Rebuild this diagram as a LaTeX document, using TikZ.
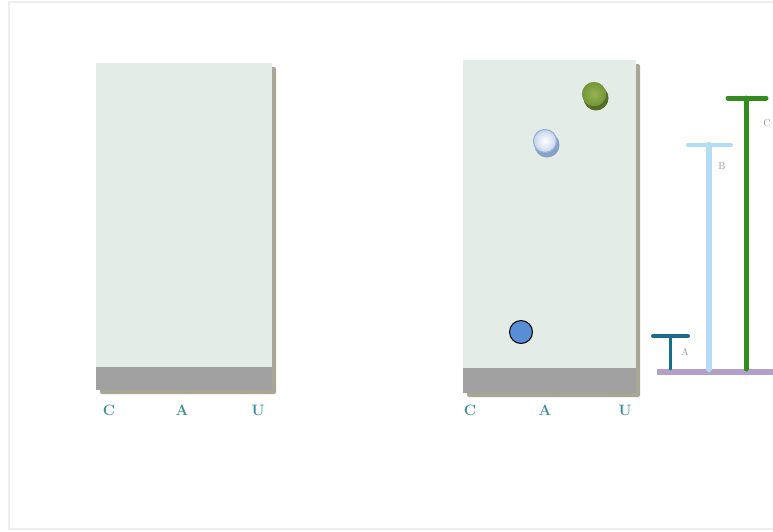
\documentclass[tikz,border=0pt]{standalone}
\usepackage{tikz}
\usetikzlibrary{positioning,calc}
\definecolor{myplate}{RGB}{228,236,231}
\definecolor{myband}{RGB}{160,161,160}
\definecolor{myshadow}{RGB}{168,167,150}
\definecolor{myteal}{RGB}{58,143,150}
\definecolor{mybar}{RGB}{26,110,140}
\definecolor{mysky}{RGB}{181,220,245}
\definecolor{mygreen}{RGB}{52,140,30}
\definecolor{mybase}{RGB}{178,160,200}
\definecolor{mylab}{RGB}{150,150,175}
\definecolor{myspot}{RGB}{88,142,214}
\definecolor{myframe}{RGB}{238,238,238}
\definecolor{myolive}{RGB}{150,180,80}
\definecolor{myolivemid}{RGB}{115,150,55}
\definecolor{myolivedark}{RGB}{85,110,38}
\definecolor{mypale}{RGB}{200,212,235}
\definecolor{mypaleedge}{RGB}{150,180,220}
\definecolor{mypaledark}{RGB}{135,160,200}
\tikzset{
  plate/.style={fill=myplate},
  band/.style={fill=myband},
  shade/.style={fill=myshadow,rounded corners=2pt},
  lane/.style={text=myteal,font=\fontsize{15}{15}\selectfont\bfseries,inner sep=0pt},
  barlab/.style={text=mylab,font=\fontsize{10}{10}\selectfont,inner sep=0pt},
  rod/.style={line width=#1,line cap=round},
}

\begin{document}
\begin{tikzpicture}[x=1pt,y=-1pt]
  \useasboundingbox (0,0) rectangle (773,531);
  % frame
  \draw[myframe,line width=1.5pt] (773,2) -- (9,2) -- (9,529) -- (773,529);
  % left plate
  \fill[shade] (100,67) rectangle (276,394);
  \fill[plate] (96,63) rectangle (272,367);
  \fill[band] (96,367) rectangle (272,390);
  \node[lane] (c1) at (109,410) {C};
  \node[lane] (a1) at (182,410) {A};
  \node[lane] (u1) at (258,410) {U};
  % right plate
  \fill[shade] (467,64) rectangle (640,397);
  \fill[plate] (463,60) rectangle (636,368);
  \fill[band] (463,368) rectangle (636,393);
  \node[lane] (c2) at (470,410) {C};
  \node[lane] (a2) at (545,410) {A};
  \node[lane] (u2) at (625,410) {U};
  % spots
  \fill[myolivedark] (596,98) circle (12.5);
  \shade[inner color=myolive,outer color=myolivemid] (594,94) circle (12);
  \fill[mypaledark] (547,145) circle (12.5);
  \shade[inner color=white,outer color=mypale,draw=mypaleedge,line width=1.2pt] (545,141) circle (11.5);
  \draw[fill=myspot,line width=1pt] (521,332) circle (11.5);
  % bars
  \draw[mybase,line width=6pt] (657,372) -- (773,372);
  \draw[mybar,rod=3pt] (670,369) -- (670,336);
  \draw[mybar,rod=4pt] (653,336) -- (688,336);
  \draw[mysky,rod=6pt] (709,369) -- (709,145);
  \draw[mysky,rod=4pt] (688,145) -- (731,145);
  \draw[mygreen,rod=5pt] (746,369) -- (746,98);
  \draw[mygreen,rod=5pt] (728,98) -- (766,98);
  \node[barlab] (la) at (685,352) {A};
  \node[barlab] (lb) at (722,166) {B};
  \node[barlab] (lc) at (767,123) {C};
\end{tikzpicture}
\end{document}
